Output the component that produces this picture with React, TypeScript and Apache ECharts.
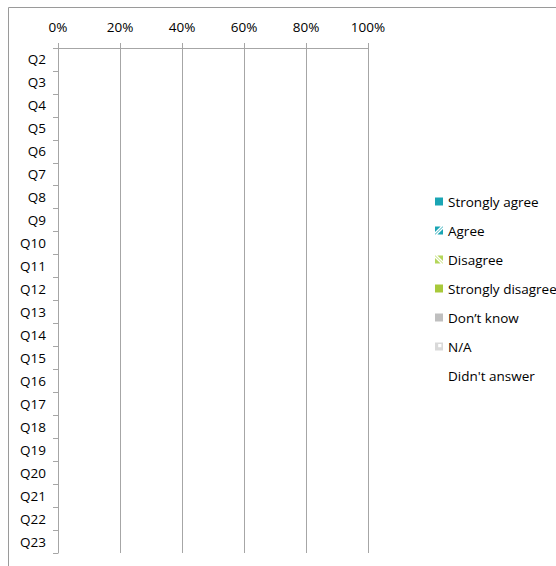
import React, { useEffect, useRef } from "react";
import * as echarts from "echarts";

const categories = ["Q2","Q3","Q4","Q5","Q6","Q7","Q8","Q9","Q10","Q11","Q12","Q13","Q14","Q15","Q16","Q17","Q18","Q19","Q20","Q21","Q22","Q23"];
const xTicks = [0, 20, 40, 60, 80, 100];

const stronglyAgree = [0,0,0,0,0,0,0,0,0,0,0,0,0,0,0,0,0,0,0,0,0,0];
const agree = [0,0,0,0,0,0,0,0,0,0,0,0,0,0,0,0,0,0,0,0,0,0];
const disagree = [0,0,0,0,0,0,0,0,0,0,0,0,0,0,0,0,0,0,0,0,0,0];
const stronglyDisagree = [0,0,0,0,0,0,0,0,0,0,0,0,0,0,0,0,0,0,0,0,0,0];
const dontKnow = [0,0,0,0,0,0,0,0,0,0,0,0,0,0,0,0,0,0,0,0,0,0];
const notApplicable = [0,0,0,0,0,0,0,0,0,0,0,0,0,0,0,0,0,0,0,0,0,0];
const didntAnswer = [0,0,0,0,0,0,0,0,0,0,0,0,0,0,0,0,0,0,0,0,0,0];

const seriesDefs = [
  { name: "Strongly agree", data: stronglyAgree, color: "#1aa5b4", icon: "rect" },
  { name: "Agree", data: agree, color: "#1aa5b4", icon: "path://M0,0H7L0,7Z M9.5,0H10V0.5L0.5,10H0V9.5Z M10,3V10H3Z" },
  { name: "Disagree", data: disagree, color: "#b4d65a", icon: "path://M10,0H3L10,7Z M0.5,0H0V0.5L9.5,10H10V9.5Z M0,3V10H7Z" },
  { name: "Strongly disagree", data: stronglyDisagree, color: "#a8c93a", icon: "rect" },
  { name: "Don\u2019t know", data: dontKnow, color: "#bfbfbf", icon: "rect" },
  { name: "N/A", data: notApplicable, color: "#d9d9d9", icon: "path://M0,0H10V10H0Z M4,2V6H8V2Z" },
  { name: "Didn't answer", data: didntAnswer, color: "rgba(0,0,0,0)", icon: "rect" },
];

const FONT = "'Open Sans', Lato, sans-serif";
const FS = 13.5;

export default function App() {
  const ref = useRef<HTMLDivElement>(null);
  useEffect(() => {
    if (!ref.current) return;
    const chart = echarts.init(ref.current, null, { renderer: "svg" });
    chart.setOption({
      animation: false,
      backgroundColor: "#ffffff",
      textStyle: { fontFamily: FONT },
      graphic: [
        {
          type: "rect",
          shape: { x: 8.5, y: 7.5, width: 700, height: 700 },
          style: { fill: "none", stroke: "#9a9a9a", lineWidth: 1 },
          silent: true,
        },
      ],
      grid: { left: 58, right: 188, top: 48, bottom: 13, containLabel: false },
      xAxis: {
        type: "value",
        position: "top",
        min: xTicks[0],
        max: xTicks[xTicks.length - 1],
        interval: 20,
        axisLine: { show: true, lineStyle: { color: "#a6a6a6", width: 1 } },
        axisTick: { show: true, length: 5, lineStyle: { color: "#a6a6a6" } },
        splitLine: { show: true, lineStyle: { color: "#a6a6a6", width: 1 } },
        axisLabel: { formatter: "{value}%", color: "#000", fontSize: FS, fontFamily: FONT, margin: 14 },
      },
      yAxis: {
        type: "category",
        inverse: true,
        data: categories,
        axisLine: { show: true, lineStyle: { color: "#a6a6a6", width: 1 } },
        axisTick: { show: true, length: 5, alignWithLabel: false, lineStyle: { color: "#a6a6a6" } },
        splitLine: { show: false },
        axisLabel: { color: "#000", fontSize: FS, fontFamily: FONT, margin: 12 },
      },
      legend: {
        orient: "vertical",
        left: 435,
        top: 194,
        padding: 0,
        itemWidth: 8,
        itemHeight: 8,
        itemGap: 14,
        selectedMode: false,
        textStyle: { color: "#000", fontSize: FS, fontFamily: FONT, lineHeight: 15 },
        data: seriesDefs.map((s) => ({ name: s.name, icon: s.icon, itemStyle: { color: s.color } })),
      },
      series: seriesDefs.map((s) => ({
        name: s.name,
        type: "bar",
        stack: "total",
        barWidth: "60%",
        data: s.data,
        itemStyle: { color: s.color },
      })),
    });
    return () => chart.dispose();
  }, []);
  return <div ref={ref} style={{ position: "absolute", left: 0, top: 0, width: 556, height: 566 }} />;
}
